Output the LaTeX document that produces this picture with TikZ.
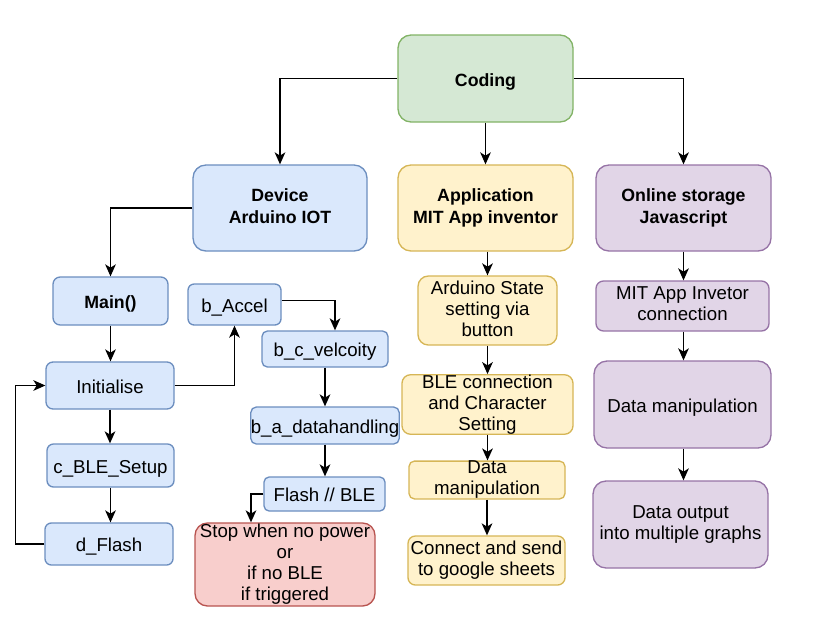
\documentclass[tikz,border=0pt]{standalone}
\usepackage{fontspec}
\setmainfont{Liberation Sans}
\usetikzlibrary{arrows.meta,calc}
\definecolor{bfill}{HTML}{DAE8FC}\definecolor{bline}{HTML}{6C8EBF}
\definecolor{gfill}{HTML}{D5E8D4}\definecolor{gline}{HTML}{82B366}
\definecolor{yfill}{HTML}{FFF2CC}\definecolor{yline}{HTML}{D6B656}
\definecolor{pfill}{HTML}{E1D5E7}\definecolor{pline}{HTML}{9673A6}
\definecolor{rfill}{HTML}{F8CECC}\definecolor{rline}{HTML}{B85450}
\newcommand\topstrut{\rule[-3pt]{0pt}{17.9pt}}
\newcommand\botstrut{\rule[-3pt]{0pt}{3pt}}
\tikzset{
  box/.style 2 args={draw, line width=1pt, inner sep=0pt, align=center,
    minimum width=#1*0.75pt, minimum height=#2*0.75pt,
    rounded corners={min(#1,#2)*0.15*0.75pt},
    font=\fontsize{14}{15.75}\selectfont,
    execute at begin node=\topstrut, execute at end node=\botstrut},
  boldtext/.style={font=\fontsize{13.3}{17}\selectfont\bfseries},
  bluebox/.style={fill=bfill, draw=bline},
  greenbox/.style={fill=gfill, draw=gline},
  yellowbox/.style={fill=yfill, draw=yline},
  purplebox/.style={fill=pfill, draw=pline},
  redbox/.style={fill=rfill, draw=rline},
  arr/.style={draw=black, line width=1pt, -{Stealth[length=9pt,width=8pt,inset=2.5pt]}}
}
\begin{document}
\begin{tikzpicture}[x=0.75pt,y=-0.75pt]
\useasboundingbox (0,0) rectangle (816,636);
% top
\node[box={175}{87}, greenbox, boldtext] (coding) at (485.5,78.5) {Coding};
\node[box={174}{86}, bluebox, boldtext] (device) at (280,208) {Device\\Arduino IOT};
\node[box={175}{86}, yellowbox, boldtext] (app) at (485.5,208) {Application\\MIT App inventor};
\node[box={175}{86}, purplebox, boldtext] (online) at (683.5,208) {Online storage\\Javascript};
% device column
\node[box={115}{48}, bluebox, boldtext] (main) at (110.5,301) {Main()};
\node[box={128}{47}, bluebox] (init) at (110,385.5) {Initialise};
\node[box={127}{43}, bluebox] (cble) at (110.5,465.5) {c\_BLE\_Setup};
\node[box={128}{42}, bluebox] (dflash) at (109,544) {d\_Flash};
\node[box={93}{41}, bluebox] (baccel) at (234.5,304.5) {b\_Accel};
\node[box={126}{36}, bluebox] (bcvel) at (325,349) {b\_c\_velcoity};
\node[box={148}{37}, bluebox] (badata) at (325,425.5) {b\_a\_datahandling};
\node[box={121}{34}, bluebox] (flashble) at (324.5,494) {Flash // BLE};
\node[box={180}{83}, redbox] (stop) at (285,564.5) {Stop when no power\\or\\if no BLE\\if triggered};
% app column
\node[box={139}{69}, yellowbox] (astate) at (487.5,310.5) {Arduino State\\setting via\\button};
\node[box={171}{57}, yellowbox] (bleconn) at (487.5,404.5) {BLE connection\\and Character\\Setting};
\node[box={156}{36}, yellowbox] (adata) at (487,480) {Data\\manipulation};
\node[box={157}{49}, yellowbox] (connect) at (486.5,560.5) {Connect and send\\to google sheets};
% online column
\node[box={173}{50}, purplebox] (mitconn) at (682.5,306) {MIT App Invetor\\connection};
\node[box={177}{87}, purplebox] (odata) at (682.5,404.5) {Data manipulation};
\node[box={175}{87}, purplebox] (oout) at (680.5,524.5) {Data output\\into multiple graphs};
% connectors
\draw[arr] (coding.west) -| (device.north);
\draw[arr] (coding.south) -- (coding.south |- app.north);
\draw[arr] (coding.east) -| (online.north);
\draw[arr] (device.west) -| (main.north);
\draw[arr] (main.south) -- (main.south |- init.north);
\draw[arr] (init.south) -- (init.south |- cble.north);
\draw[arr] (cble.south) -- (cble.south |- dflash.north);
\draw[arr] (dflash.west) -- ++(-29,0) |- (init.west);
\draw[arr] (init.east) -| (baccel.south);
\draw[arr] ([yshift=3pt]baccel.east) -| ([xshift=7.5pt]bcvel.north);
\draw[arr] (bcvel.south) -- (bcvel.south |- badata.north);
\draw[arr] (badata.south) -- (badata.south |- flashble.north);
\draw[arr] (flashble.west) -| ([xshift=-25.5pt]stop.north);
\draw[arr] (astate.north |- app.south) -- (astate.north);
\draw[arr] (astate.south) -- (astate.south |- bleconn.north);
\draw[arr] (bleconn.south) -- (bleconn.south |- adata.north);
\draw[arr] (adata.south) -- (adata.south |- connect.north);
\draw[arr] (online.south) -- (online.south |- mitconn.north);
\draw[arr] (online.south |- mitconn.south) -- (online.south |- odata.north);
\draw[arr] (online.south |- odata.south) -- (online.south |- oout.north);
\end{tikzpicture}
\end{document}
